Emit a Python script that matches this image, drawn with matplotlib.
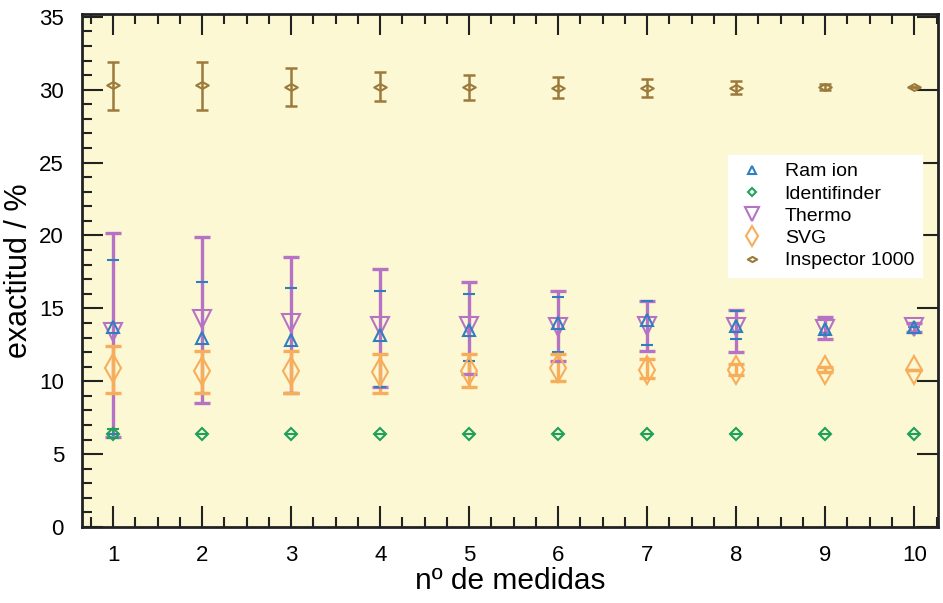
import matplotlib.pyplot as plt
import numpy as np
from matplotlib.path import Path
from matplotlib.ticker import MultipleLocator

plt.rcParams["font.family"] = ["Liberation Sans", "DejaVu Sans"]

n_medidas = [1, 2, 3, 4, 5, 6, 7, 8, 9, 10]

ramion = [13.7, 13.0, 12.8, 13.2, 13.5, 14.0, 14.2, 13.8, 13.6, 13.7]
ramion_hi = [18.3, 16.8, 16.4, 16.2, 16.0, 15.8, 15.5, 14.8, 14.2, 13.7]
ramion_lo = [6.4, 9.2, 9.2, 9.6, 11.4, 12.0, 12.5, 12.9, 13.3, 13.7]

identifinder = [6.4] * 10
identifinder_err = [0.3, 0, 0, 0, 0, 0, 0, 0, 0, 0]

thermo = [13.4, 14.3, 14.0, 13.8, 13.8, 13.7, 13.8, 13.7, 13.6, 13.7]
thermo_hi = [20.2, 19.9, 18.5, 17.7, 16.8, 16.2, 15.5, 14.9, 14.4, 14.0]
thermo_lo = [6.2, 8.5, 9.2, 9.6, 10.5, 11.4, 12.1, 12.0, 12.9, 13.4]

svg = [10.9, 10.7, 10.7, 10.6, 10.7, 10.9, 10.8, 10.8, 10.8, 10.8]
svg_hi = [12.4, 12.1, 12.1, 11.9, 11.9, 11.9, 11.5, 11.2, 11.0, 10.8]
svg_lo = [9.2, 9.2, 9.2, 9.2, 9.6, 10.0, 10.2, 10.4, 10.6, 10.8]

inspector = [30.3, 30.3, 30.2, 30.2, 30.2, 30.1, 30.1, 30.1, 30.2, 30.2]
inspector_hi = [31.9, 31.9, 31.5, 31.2, 31.0, 30.9, 30.7, 30.6, 30.4, 30.2]
inspector_lo = [28.6, 28.6, 28.9, 29.2, 29.3, 29.4, 29.5, 29.7, 30.0, 30.2]

BLUE = "#2f7fbf"
GREEN = "#1fa15a"
PURPLE = "#b673c6"
ORANGE = "#f7ad5a"
BROWN = "#9c7a3c"

# flattened diamond for Inspector 1000
flat_diamond = Path([(-1, 0), (0, 0.55), (1, 0), (0, -0.55), (-1, 0)],
                    [Path.MOVETO, Path.LINETO, Path.LINETO, Path.LINETO, Path.CLOSEPOLY])


def asym(mean, hi, lo):
    m = np.array(mean)
    return [m - np.array(lo), np.array(hi) - m]


fig = plt.figure(figsize=(9.43, 6.03), dpi=100)
ax = fig.add_axes([0.087, 0.126, 0.908, 0.851])
ax.set_facecolor("#fbf8d3")

# name, values, errors, colour, marker, size, bar width, cap size, bar zorder
series = [
    ("Thermo", thermo, asym(thermo, thermo_hi, thermo_lo), PURPLE, "v", 13, 2.4, 6, 3),
    ("Ram ion", ramion, asym(ramion, ramion_hi, ramion_lo), BLUE, "^", 8, 1.0, 4, 2),
    ("SVG", svg, asym(svg, svg_hi, svg_lo), ORANGE, "d", 14, 2.4, 6, 3),
    ("Identifinder", identifinder, identifinder_err, GREEN, "D", 6, 1.2, 4, 3),
    ("Inspector 1000", inspector, asym(inspector, inspector_hi, inspector_lo), BROWN, flat_diamond, 9, 1.8, 4, 3),
]

for name, y, err, c, m, ms, lw, cs, z in series:
    _, caps, bars = ax.errorbar(n_medidas, y, yerr=err, fmt="none", ecolor=c,
                                elinewidth=lw, capsize=cs, capthick=max(lw, 1.5),
                                zorder=z)
    for cap in caps:
        cap.set_zorder(4)
    ax.plot(n_medidas, y, ls="none", marker=m, ms=ms, mfc="none", mec=c,
            mew=1.5, zorder=5)

handles = {}
for name, y, err, c, m, ms, lw, cs, z in series:
    handles[name] = ax.plot([], [], ls="none", marker=m, ms=ms * 0.75, mfc="none",
                            mec=c, mew=1.5)[0]
order = ["Ram ion", "Identifinder", "Thermo", "SVG", "Inspector 1000"]
leg = ax.legend([handles[k] for k in order], order, loc="upper left",
                bbox_to_anchor=(0.7547, 0.725), frameon=True, fancybox=False,
                framealpha=1, edgecolor="white", fontsize=14,
                handlelength=1.6, handletextpad=0.9, labelspacing=0.24,
                borderpad=0.4, borderaxespad=0)

ax.set_xlim(0.65, 10.27)
ax.set_ylim(0, 35.2)
ax.xaxis.set_major_locator(MultipleLocator(1))
ax.xaxis.set_minor_locator(MultipleLocator(0.25))
ax.yaxis.set_major_locator(MultipleLocator(5))
ax.yaxis.set_minor_locator(MultipleLocator(1))
ax.tick_params(which="both", direction="in", top=True, right=True,
               color="#222", width=1.5)
ax.tick_params(which="major", length=15, labelsize=16, pad=13)
ax.tick_params(which="minor", length=7, right=False)
for s in ax.spines.values():
    s.set_linewidth(2)
    s.set_color("#222")

ax.set_xlabel("nº de medidas", fontsize=21.5, labelpad=1)
ax.set_ylabel("exactitud / %", fontsize=22, labelpad=4)

fig.savefig("out.png", dpi=100)
